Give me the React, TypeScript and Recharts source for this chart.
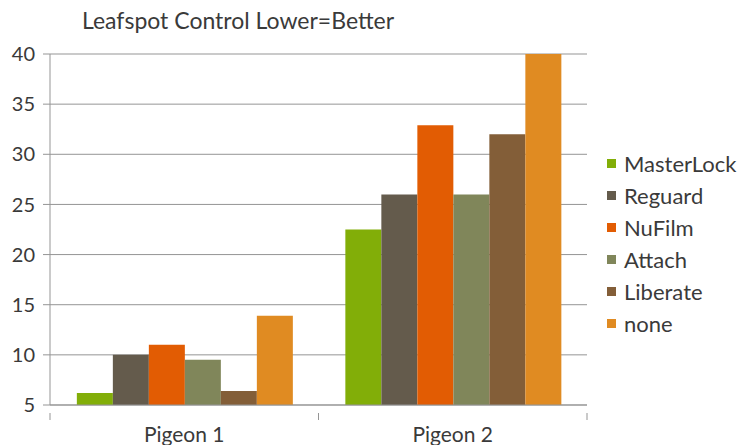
import React from "react";
import { BarChart, Bar, XAxis, YAxis, CartesianGrid } from "recharts";

const categories = ["Pigeon 1", "Pigeon 2"];
const masterLock = [6.2, 22.5];
const reguard = [10, 26];
const nuFilm = [11, 32.9];
const attach = [9.5, 26];
const liberate = [6.4, 32];
const none = [13.9, 40];
const yTicks = [5, 10, 15, 20, 25, 30, 35, 40];

const SERIES = [
  { key: "MasterLock", values: masterLock, color: "#82ae08" },
  { key: "Reguard", values: reguard, color: "#645b4c" },
  { key: "NuFilm", values: nuFilm, color: "#e25c03" },
  { key: "Attach", values: attach, color: "#80865a" },
  { key: "Liberate", values: liberate, color: "#835e38" },
  { key: "none", values: none, color: "#e08b22" },
];

const data = categories.map((name, i) => {
  const row: Record<string, string | number> = { name };
  SERIES.forEach((s) => {
    row[s.key] = s.values[i];
  });
  return row;
});

const FONT = "Lato, 'DejaVu Sans', sans-serif";
const TEXT = "#3a3a3a";
const GRID = "#959595";

const W = 744;
const H = 445;
const M = { top: 54, right: 157, left: 0, bottom: 0 };
const Y_W = 50;
const BAND = (W - M.left - M.right - Y_W) / categories.length;

const CategoryTick = (props: any) => {
  const { x, y, payload, index } = props;
  return (
    <g>
      {index === 0 && (
        <line x1={x - BAND / 2} y1={y} x2={x - BAND / 2} y2={y + 7} stroke={GRID} />
      )}
      <line x1={x + BAND / 2} y1={y} x2={x + BAND / 2} y2={y + 7} stroke={GRID} />
      <text x={x} y={y + 29} textAnchor="middle" fill={TEXT} fontSize={21} fontFamily={FONT}>
        {payload.value}
      </text>
    </g>
  );
};

export default function App() {
  return (
    <div style={{ position: "relative", width: W, height: H, background: "#fff" }}>
      <style>{"body{margin:0}"}</style>
      <div
        style={{
          position: "absolute",
          left: 82,
          top: 6,
          fontFamily: FONT,
          fontSize: 23,
          color: TEXT,
          whiteSpace: "nowrap",
        }}
      >
        Leafspot Control Lower=Better
      </div>
      <div
        style={{
          position: "absolute",
          left: 607,
          top: 147,
          fontFamily: FONT,
          fontSize: 22,
          color: TEXT,
          whiteSpace: "nowrap",
        }}
      >
        {SERIES.map((s) => (
          <div key={s.key} style={{ display: "flex", alignItems: "center", height: 32 }}>
            <span style={{ width: 9, height: 9, background: s.color, marginRight: 8 }} />
            <span>{s.key}</span>
          </div>
        ))}
      </div>
      <BarChart width={W} height={H} data={data} margin={M} barGap={0} barCategoryGap="10%">
        <CartesianGrid vertical={false} stroke={GRID} />
        <XAxis
          dataKey="name"
          height={40}
          axisLine={{ stroke: GRID }}
          tickLine={false}
          tick={<CategoryTick />}
          interval={0}
        />
        <YAxis
          width={Y_W}
          domain={[5, 40]}
          ticks={yTicks}
          allowDataOverflow
          axisLine={{ stroke: GRID }}
          tickLine={{ stroke: GRID }}
          tickSize={7}
          tickMargin={8}
          tick={{ fill: TEXT, fontSize: 20, fontFamily: FONT }}
        />
        {SERIES.map((s) => (
          <Bar key={s.key} dataKey={s.key} fill={s.color} isAnimationActive={false} />
        ))}
      </BarChart>
    </div>
  );
}
